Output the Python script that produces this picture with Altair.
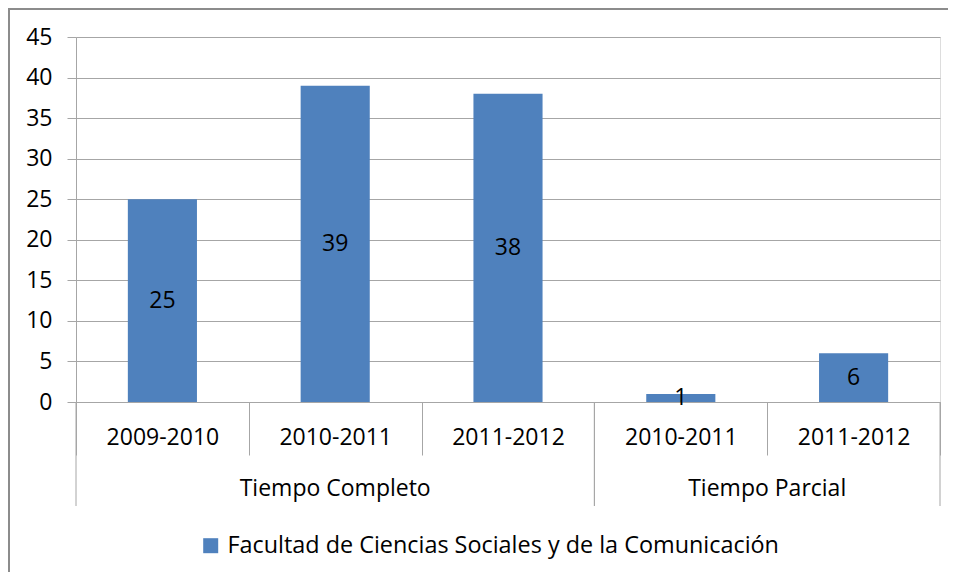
import altair as alt
import pandas as pd

# ---- data ----
groups = ["Tiempo Completo", "Tiempo Completo", "Tiempo Completo", "Tiempo Parcial", "Tiempo Parcial"]
years = ["2009-2010", "2010-2011", "2011-2012", "2010-2011", "2011-2012"]
values = [25, 39, 38, 1, 6]
series_name = "Facultad de Ciencias Sociales y de la Comunicación"
y_ticks = [0, 5, 10, 15, 20, 25, 30, 35, 40, 45]

keys = [f"{g}|{y}" for g, y in zip(groups, years)]
df = pd.DataFrame({"key": keys, "group": groups, "year": years,
                   "value": values, "series": [series_name] * len(values)})

# group spans (in category-index units)
group_names, group_start, group_end = [], [], []
for i, g in enumerate(groups):
    if not group_names or group_names[-1] != g:
        group_names.append(g)
        group_start.append(i)
        group_end.append(i + 1)
    else:
        group_end[-1] = i + 1
gdf = pd.DataFrame({"group": group_names, "start": group_start, "end": group_end})
gdf["center"] = (gdf["start"] + gdf["end"]) / 2

# ---- style ----
FONT = "Open Sans"
FS = 23
W, H = 864, 365
GRID = "#a6a6a6"
BAR = "#4F81BD"
N = len(keys)

xscale = alt.Scale(domain=keys, paddingInner=0, paddingOuter=0)
x_enc = alt.X("key:N", scale=xscale, sort=keys,
              axis=alt.Axis(title=None, labelExpr="split(datum.value, '|')[1]",
                            labelAngle=0, tickBand="extent", tickSize=53,
                            tickColor=GRID, tickWidth=1, domainColor=GRID, domainWidth=1,
                            labelBaseline="middle", labelPadding=-18,
                            labelFont=FONT, labelFontSize=FS, labelColor="#000"))
y_enc = alt.Y("value:Q", scale=alt.Scale(domain=[0, 45], nice=False),
              axis=alt.Axis(title=None, values=y_ticks, grid=True, gridColor=GRID,
                            gridWidth=1, tickColor=GRID, tickSize=9, domainColor=GRID,
                            labelPadding=15, labelFont=FONT, labelFontSize=FS,
                            labelColor="#000"))

bars = alt.Chart(df).mark_bar(width=alt.RelativeBandSize(0.4)).encode(
    x=x_enc,
    y=y_enc,
    color=alt.Color("series:N", scale=alt.Scale(range=[BAR]),
                    legend=alt.Legend(title=None, orient="none", legendX=123, legendY=497,
                                      symbolType="square", symbolSize=225,
                                      symbolStrokeWidth=0, labelFont=FONT,
                                      labelFontSize=23.4, labelColor="#000",
                                      labelOffset=5, padding=0, labelLimit=0)),
)

labels = alt.Chart(df).transform_calculate(mid="datum.value / 2").mark_text(
    font=FONT, fontSize=FS, color="#000", baseline="middle", align="center"
).encode(x=alt.X("key:N", scale=xscale, sort=keys), y=alt.Y("mid:Q"), text="value:Q")

gx = alt.Scale(domain=[0, N])
sep_start = alt.Chart(gdf).mark_rule(color=GRID, strokeWidth=1).encode(
    x=alt.X("start:Q", scale=gx, axis=None),
    y=alt.value(H), y2=alt.value(H + 104))
sep_end = alt.Chart(gdf).mark_rule(color=GRID, strokeWidth=1).encode(
    x=alt.X("end:Q", scale=gx, axis=None),
    y=alt.value(H), y2=alt.value(H + 104))
glabels = alt.Chart(gdf).mark_text(font=FONT, fontSize=FS, color="#000",
                                   baseline="middle", align="center").encode(
    x=alt.X("center:Q", scale=gx, axis=None),
    y=alt.value(H + 87), text="group:N")

frame_top = alt.Chart(gdf.head(1)).mark_rule(color="#8c8c8c", strokeWidth=2).encode(
    x=alt.value(-68), x2=alt.value(W + 10), y=alt.value(-28))
frame_left = alt.Chart(gdf.head(1)).mark_rule(color="#8c8c8c", strokeWidth=2).encode(
    x=alt.value(-67), y=alt.value(-29), y2=alt.value(H + 200))

main = alt.layer(bars, labels)
overlay = alt.layer(sep_start, sep_end, glabels, frame_top, frame_left)

chart = alt.layer(main, overlay).resolve_scale(x="independent").properties(
    width=W, height=H,
    autosize=alt.AutoSizeParams(type="none"),
    padding={"left": 68, "top": 29, "right": 8, "bottom": 170},
).configure_view(stroke=None).configure(background="white")

chart.save("out.html", embed_options={"renderer": "svg", "actions": False})
